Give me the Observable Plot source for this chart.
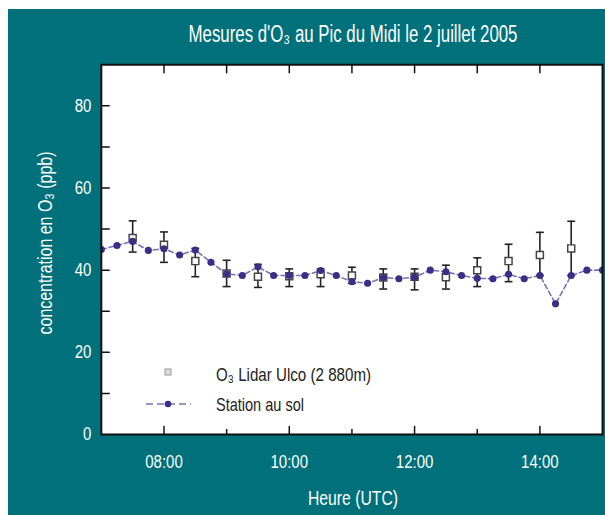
<!DOCTYPE html>
<html><head><meta charset="utf-8">
<script src="https://cdn.jsdelivr.net/npm/d3@7"></script>
<script src="https://cdn.jsdelivr.net/npm/@observablehq/plot@0.6"></script>
<style>
html,body{margin:0;padding:0;background:#fff;overflow:hidden;width:605px;height:515px;}
body{position:relative;font-family:"Liberation Sans",Arial,sans-serif;}
#panel{position:absolute;left:8px;top:9px;width:620px;height:520px;background:#00707a;}
#chart{position:absolute;left:0;top:0;}
#overlay{position:absolute;left:0;top:0;pointer-events:none;font-family:"Liberation Sans","DejaVu Sans",Arial,sans-serif;}
</style></head>
<body>
<div id="panel"></div>
<div id="chart"></div>
<svg id="overlay" width="605" height="515">
  <text class="fit" data-x="353" data-y="42" data-w="329" fill="#fff" font-size="23" text-anchor="middle">Mesures d'O₃ au Pic du Midi le 2 juillet 2005</text>
  <text class="fit" data-x="353" data-y="505" data-w="90" fill="#fff" font-size="21" text-anchor="middle">Heure (UTC)</text>
  <text class="fit" data-x="52" data-y="243" data-w="183" data-rot="-90" fill="#fff" font-size="21" text-anchor="middle">concentration en O₃ (ppb)</text>
  <rect x="165" y="369" width="6" height="6" fill="#ddd" stroke="#999" stroke-width="1"/>
  <line x1="146" x2="191" y1="404" y2="404" stroke="#7a70b0" stroke-width="1.6" stroke-dasharray="7,4"/>
  <circle cx="168" cy="404" r="3.3" fill="#3c2d86"/>
  <text class="fit" data-x="216" data-y="381" data-w="155" fill="#222" font-size="18">O₃ Lidar Ulco (2 880m)</text>
  <text class="fit" data-x="216" data-y="411" data-w="88" fill="#222" font-size="18">Station au sol</text>
</svg>
<script>
// Ground station (every 15 min)
const groundHours = [7,7.25,7.5,7.75,8,8.25,8.5,8.75,9,9.25,9.5,9.75,10,10.25,10.5,10.75,11,11.25,11.5,11.75,12,12.25,12.5,12.75,13,13.25,13.5,13.75,14,14.25,14.5,14.75,15];
const groundO3 = [45,46,47,44.8,45.2,43.7,44.9,41.9,39.1,38.7,40.8,38.7,38.7,38.7,39.9,38.7,37.2,36.8,38.2,37.9,38.3,40,39.6,38.7,38,37.9,39,37.9,38.7,31.8,38.7,40,40];
// Lidar Ulco (every 30 min)
const lidarHours = [7.5,8,8.5,9,9.5,10,10.5,11,11.5,12,12.5,13,13.5,14,14.5];
const lidarO3 =   [47.8,46.2,42.2,39.2,38.4,38.5,39.0,38.7,38.2,38.4,38.3,40.0,42.2,43.7,45.3];
const lidarLow =  [44.4,41.9,38.4,36.0,35.8,36.0,36.0,36.8,35.4,35.2,35.4,36.0,37.2,38.7,38.7];
const lidarHigh = [52.0,49.3,45.3,42.4,41.4,40.3,40.3,40.7,40.3,40.3,41.2,43.0,46.3,49.2,51.9];
// Axis ticks
const xTickLabels = [8,10,12,14];
const xMajor = [8,10,12,14];
const xMinor = [9,11,13];
const xTop = [8,9,10,11,12,13,14];
const yTickLabels = [0,20,40,60,80];
const yTicks = [10,20,30,40,50,60,70,80];

const ground = groundHours.map((h,i)=>({h, v: groundO3[i]}));
const lidar = lidarHours.map((h,i)=>({h, v: lidarO3[i], lo: lidarLow[i], hi: lidarHigh[i]}));

const tickShape = {draw(ctx, l){ctx.moveTo(0,0); ctx.lineTo(0,-l);}};
const capSymbol = {draw(ctx){ctx.moveTo(-4,0); ctx.lineTo(4,0);}};

const fmt = d => String(d).padStart(2,"0") + ":00";

const chart = Plot.plot({
  width: 612, height: 515,
  marginLeft: 102, marginRight: 3, marginTop: 65, marginBottom: 76,
  style: {background: "transparent", fontFamily: "'Liberation Sans', Arial, sans-serif", fontSize: "18.5px", color: "#fff"},
  x: {domain: [7, 15]},
  y: {domain: [0, 90]},
  marks: [
    Plot.frame({fill: "#fff", stroke: null}),
    Plot.axisX(xTickLabels, {tickSize: 0, tickPadding: 21, tickFormat: fmt, label: null, fill: "#fff", fontSize: 18.5}),
    Plot.axisY(yTickLabels, {tickSize: 0, tickPadding: 10, label: null, fill: "#fff", fontSize: 18.5}),
    Plot.vector(xMajor, {x: d=>d, frameAnchor: "bottom", length: 8, rotate: 0, anchor: "start", shape: tickShape, stroke: "#111", strokeWidth: 1.5}),
    Plot.vector(xMinor, {x: d=>d, frameAnchor: "bottom", length: 5, rotate: 0, anchor: "start", shape: tickShape, stroke: "#111", strokeWidth: 1.5}),
    Plot.vector(xTop, {x: d=>d, frameAnchor: "top", length: 8, rotate: 180, anchor: "start", shape: tickShape, stroke: "#111", strokeWidth: 1.5}),
    Plot.vector(yTicks, {y: d=>d, frameAnchor: "left", length: 8, rotate: 90, anchor: "start", shape: tickShape, stroke: "#111", strokeWidth: 1.5}),
    // Lidar error bars
    Plot.ruleX(lidar, {x: "h", y1: "lo", y2: "hi", stroke: "#222", strokeWidth: 1.6}),
    Plot.dot(lidar, {x: "h", y: "hi", symbol: capSymbol, stroke: "#222", strokeWidth: 1.6, r: 4}),
    Plot.dot(lidar, {x: "h", y: "lo", symbol: capSymbol, stroke: "#222", strokeWidth: 1.6, r: 4}),
    Plot.dot(lidar, {x: "h", y: "v", symbol: "square", r: 4, fill: "#fff", stroke: "#444", strokeWidth: 1.5}),
    // Ground station
    Plot.line(ground, {x: "h", y: "v", stroke: "#7a70b0", strokeWidth: 1.6, strokeDasharray: "5,3", clip: true}),
    Plot.dot(ground, {x: "h", y: "v", r: 3.6, fill: "#3c2d86", clip: true}),
    Plot.frame({stroke: "#111", strokeWidth: 2})
  ]
});
document.getElementById("chart").append(chart);

// condensed look: scale texts horizontally (reference uses a condensed face)
chart.querySelectorAll('g[aria-label="x-axis tick label"] text, g[aria-label="y-axis tick label"] text').forEach(t => {
  const tr = t.getAttribute("transform") || "";
  t.setAttribute("transform", (tr + " scale(0.82,1)").trim());
});
document.querySelectorAll("#overlay text.fit").forEach(t => {
  const w = t.getComputedTextLength();
  const s = (+t.dataset.w) / w;
  const rot = t.dataset.rot ? ` rotate(${t.dataset.rot})` : "";
  t.setAttribute("transform", `translate(${t.dataset.x},${t.dataset.y})${rot} scale(${s.toFixed(3)},1)`);
});
</script>
</body></html>
